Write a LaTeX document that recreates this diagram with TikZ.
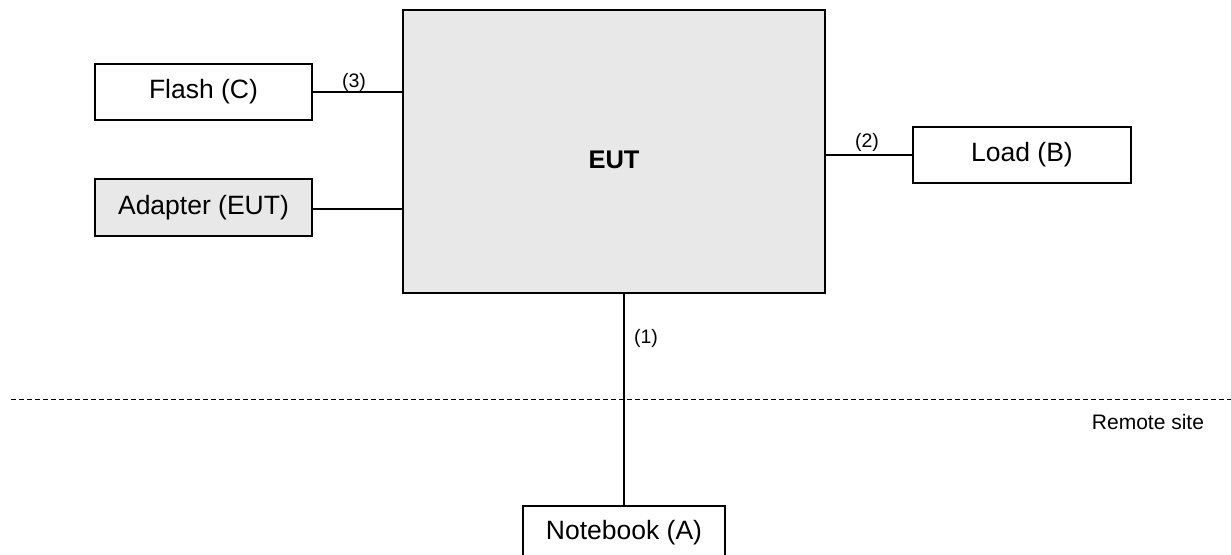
\documentclass[tikz,border=0pt]{standalone}
\usepackage{fontspec}
\setmainfont{Liberation Sans}
\begin{document}
\begin{tikzpicture}[x=1pt,y=-1pt,
  box/.style={draw=black,line width=1.4pt,inner sep=0pt,font=\fontsize{26.5}{30}\selectfont},
  wire/.style={line width=1.4pt},
  lbl/.style={font=\fontsize{19.5}{22}\selectfont,inner sep=0pt}]
\useasboundingbox (0,0) rectangle (1231,554);
\begin{scope}
\clip (0,0) rectangle (1231,554);
\node[box,fill=black!9,minimum width=422pt,minimum height=283pt] (eut) at (614,151.5) {};
\node[font=\fontsize{25.5}{28}\selectfont\bfseries] (euttxt) at (614,160) {EUT};
\node[box,minimum width=217pt,minimum height=56pt] (flash) at (203.5,92) {Flash (C)};
\node[box,fill=black!9,minimum width=217pt,minimum height=57pt] (adapter) at (203.5,207.5) {Adapter (EUT)};
\node[box,minimum width=218pt,minimum height=56pt] (load) at (1022,155) {Load (B)};
\node[box,minimum width=202pt,minimum height=54pt] (notebook) at (624,533) {Notebook (A)};
\draw[wire] (flash.east) -- (flash.east -| eut.west);
\node[lbl] (l3) at (354,82) {(3)};
\draw[wire] (adapter.east |- 0,209) -- (eut.west |- 0,209);
\draw[wire] (eut.east |- load.west) -- (load.west);
\node[lbl] (l2) at (867,142.5) {(2)};
\draw[wire] (eut.south -| notebook.north) -- (notebook.north);
\node[lbl] (l1) at (646,338) {(1)};
\coordinate (dl) at (11,399);
\coordinate (dr) at (1231,399);
\draw[line width=1pt,dash pattern=on 5pt off 3pt] (dl) -- (dr);
\node[inner sep=0pt,font=\fontsize{21}{24}\selectfont] (remote) at (1148,422) {Remote site};
\end{scope}
\end{tikzpicture}
\end{document}
